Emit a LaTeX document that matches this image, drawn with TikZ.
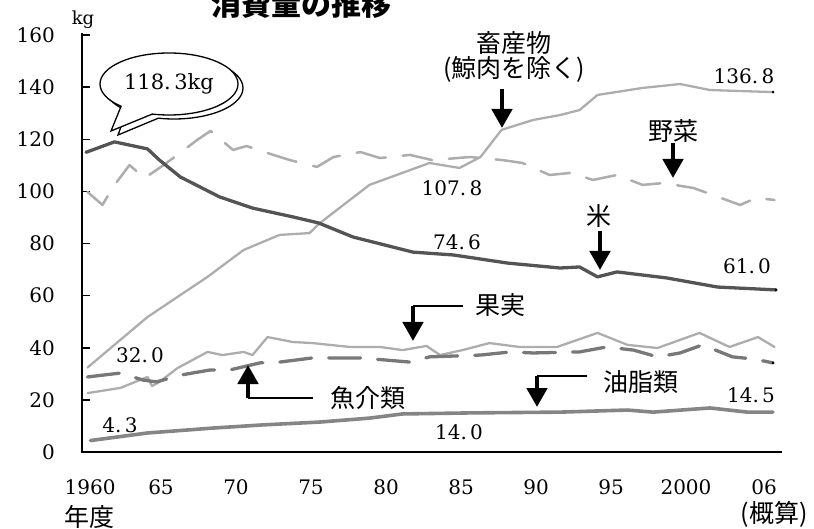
\documentclass[tikz,border=0pt]{standalone}
\usepackage{fontspec}
\setmainfont{DejaVu Serif}
\newfontfamily\jp{Noto Sans CJK JP}
\usepackage{tikz}
\usetikzlibrary{arrows.meta,shapes.callouts,positioning}
\definecolor{ricegray}{gray}{0.33}
\definecolor{fishgray}{gray}{0.47}
\definecolor{oilgray}{gray}{0.52}
\definecolor{palegray}{gray}{0.68}

\begin{document}
\begin{tikzpicture}[x=1pt,y=-1pt,
		num/.style={font=\fontsize{20}{20}\selectfont, inner sep=0pt},
		lab/.style={font=\jp\fontsize{25}{25}\selectfont, inner sep=0pt},
		>={Triangle[length=19pt,width=20pt]},
		pointer/.style={->, line width=4.5pt},
		leader/.style={line width=1.5pt},
		series/.style={line join=round, line cap=round},
		rice/.style={series, ricegray, line width=3.3pt},
		meat/.style={series, palegray, line width=2.3pt},
		veg/.style={series, palegray, line width=2.5pt, dash pattern=on 30pt off 17pt},
		fruit/.style={series, palegray, line width=2.3pt},
		fish/.style={series, fishgray, line width=3.3pt, dash pattern=on 32pt off 17pt},
		oil/.style={series, oilgray, line width=3.6pt}]
	\useasboundingbox (0,0) rectangle (814,529);

	\node[anchor=base west, inner sep=0pt, font=\jp\bfseries\fontsize{30}{30}\selectfont] (title) at (211,16) {消費量の推移};
	\node[font=\fontsize{18}{18}\selectfont, inner sep=0pt] (unit) at (83,20) {kg};

	\begin{scope}[shift={(86,452)}, x=15pt, y=2.606pt]
		\draw[line width=1.5pt] (-0.27,160.6) -- (-0.27,0) -- (46.4,0);
		\foreach \v in {0,20,...,160} {
			\draw[line width=1.5pt] (-0.27,\v) -- ++(8pt,0);
			\node[num, anchor=east] at (-2.07,\v) {\v};
		}
		\foreach \t/\yr in {0.27/1960, 5/65, 10/70, 15/75, 20/80, 25/85, 30/90, 35/95, 40/2000, 45.2/06}
			\node[num] at (\t,-13.6) {\yr};

		\draw[veg] plot coordinates {(0.1,99.8) (1.1,94.8) (1.8,101.7) (2.9,110.1) (3.9,105.1) (4.9,109) (6.1,114) (7.4,119.7) (8.3,123.2) (9.8,115.9) (10.7,117.4) (12.5,114) (13.6,112) (15.4,109.4) (16.5,113.2) (18.3,115.1) (19.6,112.8) (21.6,114) (23.1,112) (25.6,113.2) (27.8,112) (29.1,110.9) (30.9,106.3) (32.3,107.1) (33.8,104.4) (35.4,106.3) (37.1,102.5) (38.5,103.2) (40.5,101.3) (41.8,98.6) (43.6,94.8) (44.7,97.5) (45.9,96.7)};
		\draw[meat] plot coordinates {(0.1,32.4) (4.1,51.8) (8.1,67.2) (10.5,77.5) (12.9,83.3) (14.9,84) (15.6,87.9) (18.9,102.5) (22.9,110.9) (24.9,109) (26.3,113.2) (27.7,123.6) (29.8,127.4) (31.6,129.3) (32.9,131.2) (34.1,137) (37.1,139.7) (39.6,141.2) (41.6,138.9) (45.8,138.1)};
		\draw[fruit] plot coordinates {(0.1,22.6) (2.3,24.6) (4.1,28.8) (4.4,25.3) (4.9,26.9) (6.1,32.2) (8.1,38.4) (9.1,37.2) (10.5,38.4) (11.1,37.2) (12.1,44.1) (13.8,42.2) (15.1,41.8) (17.6,40.3) (19.6,40.3) (21.1,39.1) (22.7,40.7) (23.6,37.2) (25.1,39.1) (26.9,41.8) (28.9,40.3) (31.4,40.3) (34.1,45.7) (36.1,41.1) (38.1,39.9) (40.9,45.7) (42.9,40.3) (44.8,44.1) (45.9,40.3)};
		\draw[fish] plot coordinates {(0.1,28.8) (2.3,30.3) (3.8,27.6) (4.7,26.9) (6.3,29.5) (8.3,31.5) (9.6,31.5) (11.6,34.2) (12.9,34.5) (15.1,36.1) (18.3,36.1) (21.6,34.5) (22.9,36.5) (26.3,37.2) (28.3,38.4) (29.8,38) (32.9,38.4) (34.7,40.3) (36.5,39.1) (38.1,36.5) (39.6,38) (41.1,41.1) (43.1,36.5) (44.5,35.7) (45.8,34.2)};
		\draw[rice] plot coordinates {(0,115) (1.9,119) (4.1,116.3) (4.9,112) (6.3,105.5) (8.9,97.9) (11.1,93.6) (13.8,90.2) (15.5,87.9) (17.8,82.5) (21.8,76.7) (24.5,75.6) (28.1,72.5) (31.6,70.6) (32.9,71) (34.1,67.2) (35.4,69.1) (38.7,66.8) (42.1,63.3) (46,62.2)};
		\draw[oil] plot coordinates {(0.3,4.4) (4.1,7.3) (8.5,9.2) (11.8,10.4) (15.6,11.5) (18.9,13) (21.1,14.6) (25.6,15) (31.6,15.3) (36.1,16.1) (37.8,15.3) (41.6,16.9) (44.1,15.3) (45.8,15.3)};
		\foreach \e in {(46,62.2), (45.8,138.1), (45.8,34.2)}
			\fill \e circle (1.4pt);
	\end{scope}

	\node[lab] (nendo) at (89,517) {年度};
	\node[lab] (gaisan) at (774,514) {(概算)};

	% peak bubble
	\node[ellipse callout, draw, fill=white, line width=1.3pt, minimum width=138pt, minimum height=62pt,
		callout absolute pointer={(118,135)}, callout pointer arc=30] (peakback) at (174,88) {};
	\node[ellipse callout, draw, fill=white, line width=1.3pt, minimum width=138pt, minimum height=62pt,
		callout absolute pointer={(111,131)}, callout pointer arc=30,
		font=\fontsize{21}{21}\selectfont] (peak) at (169,84) {118.\,3kg};

	\node[num] (meatend) at (744,76) {136.\,8};
	\node[num] (meatmid) at (452,188) {107.\,8};
	\node[num] (ricemid) at (457,242) {74.\,6};
	\node[num] (riceend) at (747,266) {61.\,0};
	\node[num] (meatstart) at (140,355) {32.\,0};
	\node[num] (oilstart) at (120,425) {4.\,3};
	\node[num] (oilmid) at (459,432) {14.\,0};
	\node[num] (oilend) at (751,395) {14.\,5};

	\node[lab, align=center] (meatlbl) at (514,57) {畜産物\\(鯨肉を除く)};
	\coordinate (meatpt) at (502,128);
	\draw[pointer, shorten <=6pt] (meatlbl.south -| meatpt) -- (meatpt);

	\node[lab] (veglbl) at (673,131) {野菜};
	\coordinate (vegpt) at (673,178);
	\draw[pointer] (veglbl.south -| vegpt) -- (vegpt);

	\node[lab] (ricelbl) at (599,216) {米};
	\coordinate (ricept) at (600,270);
	\draw[pointer, shorten <=3pt] (ricelbl.south -| ricept) -- (ricept);

	\node[lab] (fruitlbl) at (500,305) {果実};
	\coordinate (fruitpt) at (413,341);
	\coordinate (fruitbend) at (413,306);
	\draw[leader, shorten >=12pt] (fruitbend) -- (fruitbend -| fruitlbl.west);
	\draw[pointer] (fruitbend) -- (fruitpt);

	\node[lab] (fishlbl) at (368,398) {魚介類};
	\coordinate (fishpt) at (248,365);
	\coordinate (fishbend) at (248,398);
	\draw[leader, shorten >=17pt] (fishbend) -- (fishbend -| fishlbl.west);
	\draw[pointer] (fishbend) -- (fishpt);

	\node[lab] (oillbl) at (641,382) {油脂類};
	\coordinate (oilpt) at (537,407);
	\coordinate (oilbend) at (537,376);
	\draw[leader, shorten >=16pt] (oilbend) -- (oilbend -| oillbl.west);
	\draw[pointer] (oilbend) -- (oilpt);
\end{tikzpicture}
\end{document}
